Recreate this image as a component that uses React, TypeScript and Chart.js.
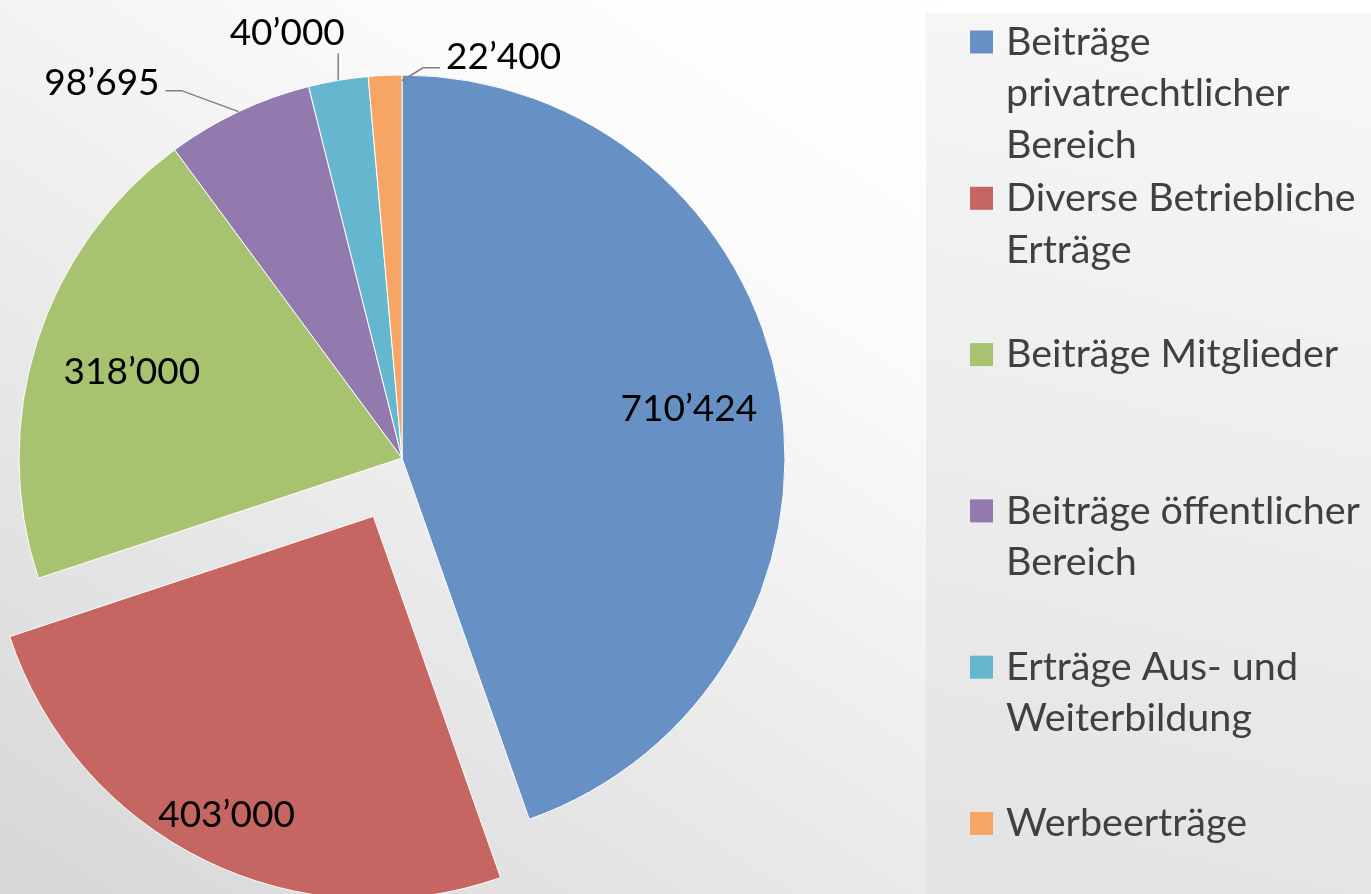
import React, { useEffect, useRef } from 'react';
import { Chart, registerables } from 'chart.js';

Chart.register(...registerables);

const categories = [
  'Beiträge privatrechtlicher Bereich',
  'Diverse Betriebliche Erträge',
  'Beiträge Mitglieder',
  'Beiträge öffentlicher Bereich',
  'Erträge Aus- und Weiterbildung',
  'Werbeerträge',
];
const values = [710424, 403000, 318000, 98695, 40000, 22400];
const sliceColors = ['#6791C5', '#C66662', '#A8C36F', '#9279AE', '#65B7CF', '#F6A564'];
// Chart.js moves an arc by offset / 4 pixels
const sliceOffsets = [0, 260, 0, 0, 0, 0];

const fmt = (v: number) => String(v).replace(/\B(?=(\d{3})+(?!\d))/g, '\u2019');

type Placement =
  | { type: 'inside'; r: number }
  | { type: 'outside'; frac: number; rr: number; leader: number[][]; text: number[]; align: CanvasTextAlign };

const labelPlacement: Placement[] = [
  { type: 'inside', r: 0.76 },
  { type: 'inside', r: 0.87 },
  { type: 'inside', r: 0.74 },
  { type: 'outside', frac: 0.5, rr: 1, leader: [[-57, -21], [-73, -21]], text: [-79, -29], align: 'right' },
  { type: 'outside', frac: 0.5, rr: 1, leader: [[0, -27]], text: [-51, -47], align: 'center' },
  { type: 'outside', frac: 1, rr: 0.985, leader: [[21, -13], [38, -13]], text: [44, -24], align: 'left' },
];

const LABEL_FONT = '37px Lato, "Open Sans", sans-serif';
const LEGEND_FONT = '39.5px Lato, "Open Sans", sans-serif';

const backgroundPlugin = {
  id: 'bg',
  beforeDraw(chart: any) {
    const { ctx, width, height } = chart;
    ctx.save();
    const g = ctx.createLinearGradient(780, -120, 80, 960);
    g.addColorStop(0, '#ffffff');
    g.addColorStop(0.25, '#fbfbfb');
    g.addColorStop(1, '#d6d6d6');
    ctx.fillStyle = g;
    ctx.fillRect(0, 0, width, height);
    const px = 926, py = 13;
    const pg = ctx.createLinearGradient(1200, py, 1000, height);
    pg.addColorStop(0, '#f7f7f7');
    pg.addColorStop(1, '#e3e3e3');
    ctx.fillStyle = pg;
    ctx.fillRect(px, py, width - px, height - py);
    ctx.restore();
  },
};

const labelsPlugin = {
  id: 'sliceLabels',
  afterDatasetsDraw(chart: any) {
    const { ctx } = chart;
    const meta = chart.getDatasetMeta(0);
    ctx.save();
    ctx.font = LABEL_FONT;
    ctx.fillStyle = '#000000';
    ctx.textBaseline = 'middle';
    meta.data.forEach((el: any, i: number) => {
      const { x, y, startAngle, endAngle, outerRadius } = el.getProps(
        ['x', 'y', 'startAngle', 'endAngle', 'outerRadius'],
        true
      );
      const mid = (startAngle + endAngle) / 2;
      const off = (el.options.offset || 0) / 4;
      const cx = x + Math.cos(mid) * off;
      const cy = y + Math.sin(mid) * off;
      const p = labelPlacement[i];
      const text = fmt(values[i]);
      if (p.type === 'inside') {
        ctx.textAlign = 'center';
        ctx.fillText(text, cx + Math.cos(mid) * outerRadius * p.r, cy + Math.sin(mid) * outerRadius * p.r);
      } else {
        const a = startAngle + (endAngle - startAngle) * p.frac;
        const ax = cx + Math.cos(a) * outerRadius * p.rr;
        const ay = cy + Math.sin(a) * outerRadius * p.rr;
        ctx.strokeStyle = '#7f7f7f';
        ctx.lineWidth = 1.5;
        ctx.beginPath();
        ctx.moveTo(ax, ay);
        p.leader.forEach(([dx, dy]) => ctx.lineTo(ax + dx, ay + dy));
        ctx.stroke();
        ctx.textAlign = p.align;
        ctx.fillText(text, ax + p.text[0], ay + p.text[1]);
      }
    });
    ctx.restore();
  },
};

const legendPlugin = {
  id: 'customLegend',
  afterDraw(chart: any) {
    const { ctx } = chart;
    const ds = chart.data.datasets[0];
    ctx.save();
    ctx.font = LEGEND_FONT;
    ctx.textBaseline = 'middle';
    ctx.textAlign = 'left';
    const maxW = 362;
    const x0 = 970, tx = 1006, y0 = 42, step = 156.3, lh = 51.5;
    chart.data.labels.forEach((label: string, i: number) => {
      const words = label.split(' ');
      const lines: string[] = [];
      let cur = '';
      words.forEach((w) => {
        const test = cur ? cur + ' ' + w : w;
        if (cur && ctx.measureText(test).width > maxW) {
          lines.push(cur);
          cur = w;
        } else cur = test;
      });
      if (cur) lines.push(cur);
      const yc = y0 + i * step;
      ctx.fillStyle = ds.backgroundColor[i];
      ctx.fillRect(x0, yc - 11.5, 23, 23);
      ctx.fillStyle = '#404040';
      lines.forEach((ln, k) => ctx.fillText(ln, tx, yc + k * lh));
    });
    ctx.restore();
  },
};

export default function App() {
  const ref = useRef<HTMLCanvasElement>(null);
  useEffect(() => {
    const canvas = ref.current!;
    const chart = new Chart(canvas, {
      type: 'pie',
      data: {
        labels: categories,
        datasets: [
          {
            data: values,
            backgroundColor: sliceColors,
            borderColor: '#ffffff',
            borderWidth: 1,
            offset: sliceOffsets,
          },
        ],
      },
      options: {
        animation: false,
        responsive: false,
        radius: 383,
        layout: { padding: { left: 0, top: 22, right: 567, bottom: 0 } },
        plugins: {
          legend: { display: false },
          tooltip: { enabled: false },
          title: { display: false },
        },
      } as any,
      plugins: [backgroundPlugin, labelsPlugin, legendPlugin],
    });
    return () => chart.destroy();
  }, []);
  return (
    <div style={{ position: 'fixed', left: 0, top: 0, width: 1371, height: 894, overflow: 'hidden' }}>
      <canvas ref={ref} width={1371} height={894} style={{ width: 1371, height: 894, display: 'block' }} />
    </div>
  );
}
